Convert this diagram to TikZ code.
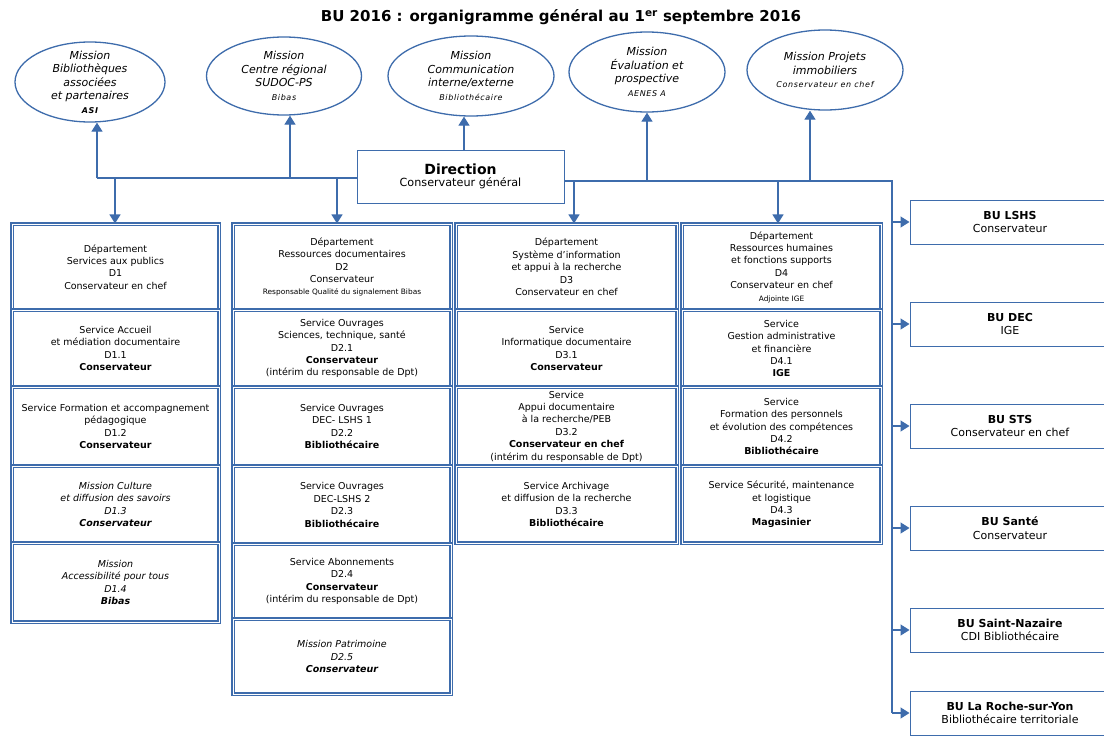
\documentclass[tikz,border=0pt]{standalone}
\usepackage{fontspec}
\setmainfont{DejaVu Sans}
\newfontfamily\spacedfont[LetterSpace=8]{DejaVu Sans}
\usetikzlibrary{shapes.geometric,arrows.meta}
\definecolor{bl}{RGB}{62,108,172}
\newcommand\bxfont{\fontsize{9.5}{12.4}\selectfont}
\newcommand\elfont{\fontsize{11}{13.5}\selectfont\itshape}
\newcommand\elsmall{\fontsize{8}{10}\selectfont\spacedfont\itshape}
\newcommand\tinyline{\fontsize{7.4}{9}\selectfont}
\begin{document}
\begin{tikzpicture}[x=1pt,y=-1pt,
  ln/.style={draw=bl, line width=1.3pt},
  arr/.style={ln, -{Triangle[width=11pt,length=9pt]}},
  ell/.style={ellipse, draw=bl, line width=1.3pt, inner xsep=0pt, inner ysep=-14pt, align=center, font=\elfont},
  cell/.style={draw=bl, line width=1.1pt, double=white, double distance=0.9pt, inner sep=0pt, align=center, font=\bxfont},
  dirbox/.style={draw=bl, line width=1pt, inner sep=0pt, align=center, fill=white},
  bubox/.style={draw=bl, line width=1pt, inner sep=0pt, align=center, font=\fontsize{11}{13.5}\selectfont, minimum width=200, minimum height=44}
]
\useasboundingbox (0,0) rectangle (1104,736);
\fill[white] (0,0) rectangle (1104,736);

% title
\node[font=\fontsize{15}{17}\selectfont\bfseries] (title) at (561,17) {BU 2016 : organigramme général au 1\textsuperscript{er} septembre 2016};

% missions
\node[ell, minimum width=150, minimum height=80] (e1) at (90,82) {Mission\\Bibliothèques\\associées\\et partenaires\\{\elsmall\bfseries ASI}};
\node[ell, minimum width=155, minimum height=78] (e2) at (284,76) {Mission\\Centre régional\\SUDOC-PS\\{\elsmall Bibas}};
\node[ell, minimum width=166, minimum height=80] (e3) at (471,76) {Mission\\Communication\\interne/externe\\{\elsmall Bibliothécaire}};
\node[ell, minimum width=156, minimum height=80] (e4) at (647,72) {Mission\\Évaluation et\\prospective\\{\elsmall AENES A}};
\node[ell, minimum width=156, minimum height=80] (e5) at (825,70) {Mission Projets\\immobiliers\\{\elsmall Conservateur en chef}};

% direction
\node[dirbox, minimum width=207, minimum height=53] (dir) at (460.5,176.5) {{\fontsize{14}{17}\selectfont\bfseries Direction}\\{\fontsize{11.2}{13}\selectfont Conservateur général}};

% column 1
\node[cell, minimum width=207, minimum height=86] (d1) at (115.5,267) {Département\\Services aux publics\\D1\\Conservateur en chef};
\node[cell, minimum width=207, minimum height=77] (d11) at (115.5,348.5) {Service Accueil\\et médiation documentaire\\D1.1\\\textbf{Conservateur}};
\node[cell, minimum width=207, minimum height=79] (d12) at (115.5,426.5) {Service Formation et accompagnement\\pédagogique\\D1.2\\\textbf{Conservateur}};
\node[cell, minimum width=207, minimum height=77, font=\bxfont\itshape] (d13) at (115.5,504.5) {Mission Culture\\et diffusion des savoirs\\D1.3\\\textbf{Conservateur}};
\node[cell, minimum width=207, minimum height=79, font=\bxfont\itshape] (d14) at (115.5,582.5) {Mission\\Accessibilité pour tous\\D1.4\\\textbf{Bibas}};

% column 2
\node[cell, minimum width=218, minimum height=86] (d2) at (342,267) {Département\\Ressources documentaires\\D2\\Conservateur\\{\tinyline Responsable Qualité du signalement Bibas}};
\node[cell, minimum width=218, minimum height=77] (d21) at (342,348.5) {Service Ouvrages\\Sciences, technique, santé\\D2.1\\\textbf{Conservateur}\\(intérim du responsable de Dpt)};
\node[cell, minimum width=218, minimum height=79] (d22) at (342,426.5) {Service Ouvrages\\DEC- LSHS 1\\D2.2\\\textbf{Bibliothécaire}};
\node[cell, minimum width=218, minimum height=78] (d23) at (342,505) {Service Ouvrages\\DEC-LSHS 2\\D2.3\\\textbf{Bibliothécaire}};
\node[cell, minimum width=218, minimum height=75] (d24) at (342,581.5) {Service Abonnements\\D2.4\\\textbf{Conservateur}\\(intérim du responsable de Dpt)};
\node[cell, minimum width=218, minimum height=75, font=\bxfont\itshape] (d25) at (342,656.5) {Mission Patrimoine\\D2.5\\\textbf{Conservateur}};

% column 3
\node[cell, minimum width=221, minimum height=86] (d3) at (566.5,267) {Département\\Système d'information\\et appui à la recherche\\D3\\Conservateur en chef};
\node[cell, minimum width=221, minimum height=77] (d31) at (566.5,348.5) {Service\\Informatique documentaire\\D3.1\\\textbf{Conservateur}};
\node[cell, minimum width=221, minimum height=79] (d32) at (566.5,426.5) {Service\\Appui documentaire\\à la recherche/PEB\\D3.2\\\textbf{Conservateur en chef}\\(intérim du responsable de Dpt)};
\node[cell, minimum width=221, minimum height=77] (d33) at (566.5,504.5) {Service Archivage\\et diffusion de la recherche\\D3.3\\\textbf{Bibliothécaire}};

% column 4
\node[cell, minimum width=199, minimum height=86] (d4) at (781.5,267) {Département\\Ressources humaines\\et fonctions supports\\D4\\Conservateur en chef\\{\tinyline Adjointe IGE}};
\node[cell, minimum width=199, minimum height=77] (d41) at (781.5,348.5) {Service\\Gestion administrative\\et financière\\D4.1\\\textbf{IGE}};
\node[cell, minimum width=199, minimum height=79] (d42) at (781.5,426.5) {Service\\Formation des personnels\\et évolution des compétences\\D4.2\\\textbf{Bibliothécaire}};
\node[cell, minimum width=199, minimum height=77] (d43) at (781.5,504.5) {Service Sécurité, maintenance\\et logistique\\D4.3\\\textbf{Magasinier}};

% BU boxes
\node[bubox] (bu1) at (1010,222) {\textbf{BU LSHS}\\Conservateur};
\node[bubox] (bu2) at (1010,324) {\textbf{BU DEC}\\IGE};
\node[bubox] (bu3) at (1010,426) {\textbf{BU STS}\\Conservateur en chef};
\node[bubox] (bu4) at (1010,528) {\textbf{BU Santé}\\Conservateur};
\node[bubox] (bu5) at (1010,630) {\textbf{BU Saint-Nazaire}\\CDI Bibliothécaire};
\node[bubox] (bu6) at (1010,713) {\textbf{BU La Roche-sur-Yon}\\Bibliothécaire territoriale};

% junctions
\coordinate (jL) at (97,178);
\coordinate (j2) at (290,178);
\coordinate (jd1) at (115,178);
\coordinate (jd2) at (337,178);
\coordinate (j3) at (464,0);
\coordinate (jR) at (892,181);
\coordinate (j4) at (647,181);
\coordinate (j5) at (810,181);
\coordinate (jd3) at (574,181);
\coordinate (jd4) at (778,181);

% left bus
\draw[ln] (dir.west |- jL) -- (jL);
\draw[arr] (jL) -- (jL |- e1.south);
\draw[arr] (j2) -- (j2 |- e2.south);
\draw[arr] (jd1) -- (jd1 |- d1.north);
\draw[arr] (jd2) -- (jd2 |- d2.north);
% top
\draw[arr] (dir.north -| j3) -- (j3 |- e3.south);
% right bus
\draw[ln] (dir.east |- jR) -- (jR) -- (jR |- bu6.west);
\draw[arr] (j4) -- (j4 |- e4.south);
\draw[arr] (j5) -- (j5 |- e5.south);
\draw[arr] (jd3) -- (jd3 |- d3.north);
\draw[arr] (jd4) -- (jd4 |- d4.north);
\foreach \b in {bu1,bu2,bu3,bu4,bu5,bu6}{
  \draw[arr] (jR |- \b.west) -- (\b.west);
}
\end{tikzpicture}
\end{document}
